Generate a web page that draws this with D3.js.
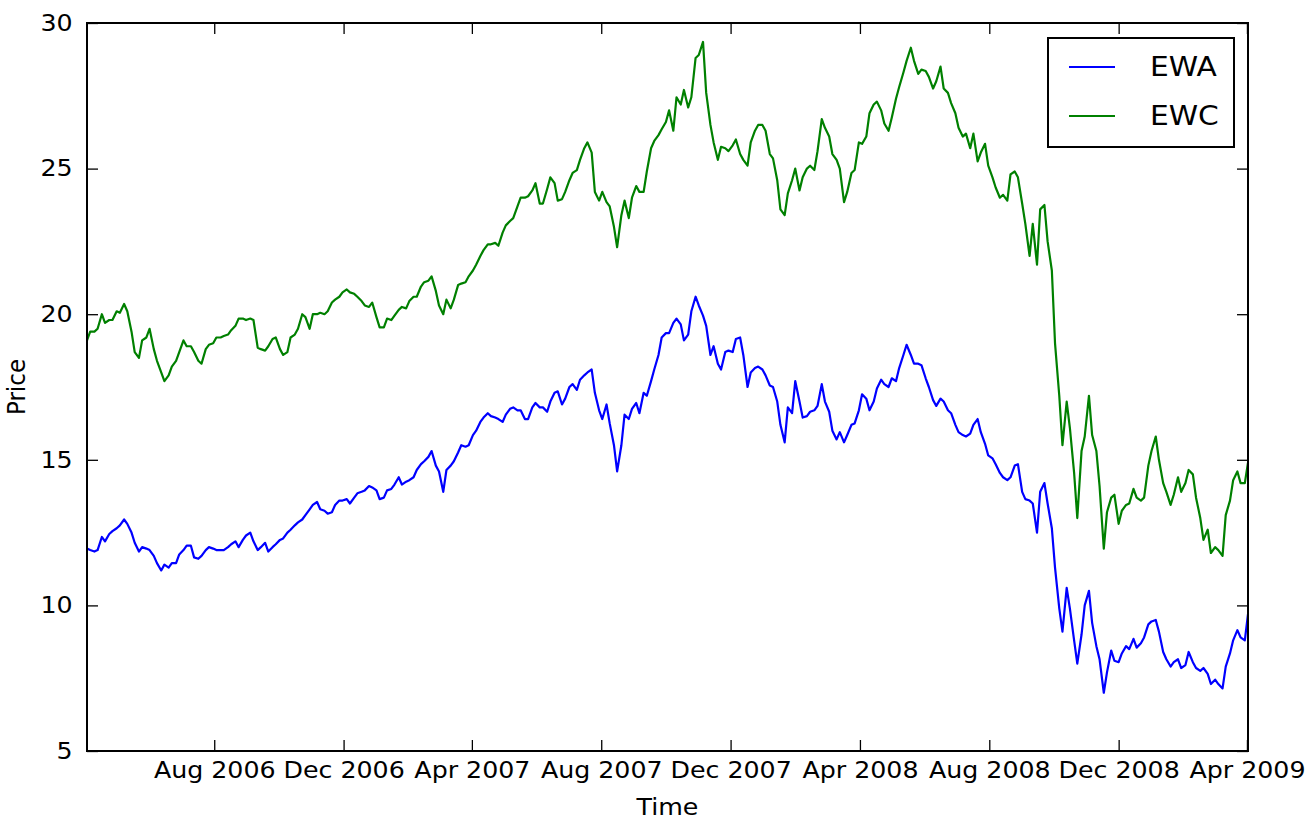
<!DOCTYPE html>
<html>
<head>
<meta charset="utf-8">
<script src="https://cdn.jsdelivr.net/npm/d3@7"></script>
<style>
  body { margin: 0; background: #fff; }
  text { font-family: "DejaVu Sans", sans-serif; fill: #000; }
</style>
</head>
<body>
<svg id="chart" width="1309" height="821"></svg>
<script>
// Series names and colours
const seriesNames = ["EWA", "EWC"];
const seriesColors = ["#0000ff", "#008000"];

// Twice-weekly closing prices (Mondays and Thursdays), Apr 3 2006 – Apr 2 2009
const ewa = [
  11.95, 11.9, 11.85, 11.9, 12.35, 12.2, 12.45, 12.55, 12.65, 12.75,
  12.95, 12.8, 12.5, 12.15, 11.85, 12.0, 11.95, 11.9, 11.7, 11.45,
  11.2, 11.4, 11.3, 11.45, 11.45, 11.75, 11.9, 12.05, 12.05, 11.65,
  11.6, 11.7, 11.9, 12.0, 11.95, 11.9, 11.9, 11.9, 12.0, 12.1,
  12.2, 12.0, 12.25, 12.4, 12.5, 12.2, 11.9, 12.0, 12.15, 11.85,
  12.0, 12.1, 12.25, 12.3, 12.5, 12.6, 12.75, 12.85, 12.95, 13.1,
  13.3, 13.45, 13.55, 13.3, 13.25, 13.15, 13.2, 13.45, 13.6, 13.6,
  13.65, 13.5, 13.7, 13.85, 13.9, 13.95, 14.1, 14.05, 13.95, 13.65,
  13.7, 13.95, 14.0, 14.15, 14.4, 14.15, 14.25, 14.3, 14.4, 14.65,
  14.85, 14.95, 15.1, 15.3, 14.8, 14.6, 13.9, 14.65, 14.8, 14.95,
  15.25, 15.5, 15.45, 15.5, 15.85, 16.0, 16.3, 16.45, 16.6, 16.5,
  16.45, 16.4, 16.3, 16.55, 16.75, 16.8, 16.7, 16.7, 16.4, 16.4,
  16.8, 16.95, 16.8, 16.8, 16.65, 17.0, 17.3, 17.35, 16.9, 17.1,
  17.5, 17.6, 17.4, 17.75, 17.9, 18.0, 18.1, 17.3, 16.7, 16.4,
  16.9, 16.25, 15.5, 14.6, 15.5, 16.55, 16.4, 16.75, 16.95, 16.6,
  17.3, 17.2, 17.7, 18.1, 18.6, 19.2, 19.35, 19.35, 19.7, 19.85,
  19.65, 19.1, 19.3, 20.1, 20.6, 20.3, 19.95, 19.6, 18.6, 18.9,
  18.3, 18.1, 18.7, 18.75, 18.7, 19.15, 19.2, 18.6, 17.5, 18.0,
  18.15, 18.2, 18.1, 17.9, 17.55, 17.5, 17.0, 16.2, 15.6, 16.8,
  16.6, 17.7, 17.0, 16.45, 16.5, 16.65, 16.7, 16.85, 17.6, 17.0,
  16.65, 16.0, 15.7, 15.95, 15.6, 15.85, 16.2, 16.25, 16.7, 17.25,
  17.1, 16.7, 17.0, 17.45, 17.75, 17.6, 17.5, 17.8, 17.7, 18.15,
  18.6, 18.95, 18.6, 18.3, 18.3, 18.25, 17.8, 17.5, 17.05, 16.85,
  17.1, 17.0, 16.7, 16.6, 16.2, 15.95, 15.85, 15.8, 15.9, 16.2,
  16.4, 15.95, 15.55, 15.15, 15.05, 14.85, 14.55, 14.4, 14.3, 14.4,
  14.8, 14.85, 13.9, 13.65, 13.6, 13.5, 12.5, 13.9, 14.2, 13.5,
  12.65, 11.3, 9.9, 9.1, 10.6, 9.9, 8.8, 8.0, 9.0, 10.0,
  10.5, 9.4, 8.6, 8.15, 7.0, 7.7, 8.45, 8.1, 8.05, 8.35,
  8.6, 8.5, 8.85, 8.55, 8.7, 8.9, 9.35, 9.45, 9.5, 9.1,
  8.4, 8.15, 7.9, 8.05, 8.15, 7.85, 7.95, 8.4, 8.05, 7.85,
  7.75, 7.85, 7.65, 7.3, 7.45, 7.3, 7.15, 7.9, 8.35, 8.8,
  9.15, 8.9, 8.8, 9.7
];

const ewc = [
  19.1, 19.4, 19.4, 19.5, 20.0, 19.7, 19.8, 19.8, 20.1, 20.05,
  20.35, 20.1, 19.4, 18.7, 18.5, 19.1, 19.2, 19.5, 18.8, 18.4,
  18.0, 17.7, 17.9, 18.2, 18.4, 18.7, 19.1, 18.9, 18.9, 18.7,
  18.4, 18.3, 18.8, 18.95, 19.0, 19.2, 19.2, 19.25, 19.3, 19.45,
  19.6, 19.85, 19.85, 19.8, 19.85, 19.8, 18.85, 18.8, 18.75, 18.9,
  19.15, 19.2, 18.8, 18.6, 18.7, 19.2, 19.3, 19.5, 20.0, 19.9,
  19.5, 20.0, 20.0, 20.05, 20.0, 20.1, 20.4, 20.5, 20.6, 20.75,
  20.85, 20.75, 20.7, 20.6, 20.45, 20.3, 20.25, 20.4, 19.9, 19.55,
  19.55, 19.85, 19.8, 19.95, 20.15, 20.25, 20.2, 20.45, 20.6, 20.6,
  20.95, 21.1, 21.15, 21.3, 20.8, 20.3, 20.0, 20.5, 20.2, 20.5,
  21.0, 21.05, 21.1, 21.3, 21.5, 21.7, 22.0, 22.2, 22.4, 22.4,
  22.45, 22.35, 22.8, 23.05, 23.2, 23.3, 23.7, 24.0, 24.0, 24.05,
  24.25, 24.5, 23.8, 23.8, 24.3, 24.7, 24.5, 23.9, 23.95, 24.2,
  24.6, 24.85, 24.95, 25.3, 25.7, 25.9, 25.55, 24.2, 23.9, 24.2,
  23.85, 23.7, 23.0, 22.3, 23.4, 23.9, 23.3, 24.0, 24.4, 24.2,
  24.2, 24.9, 25.7, 25.95, 26.15, 26.35, 26.6, 27.0, 26.3, 27.45,
  27.2, 27.7, 27.1, 27.45, 28.8, 28.9, 29.35, 27.6, 26.5, 25.9,
  25.3, 25.75, 25.7, 25.6, 25.8, 26.0, 25.5, 25.3, 25.1, 25.9,
  26.3, 26.5, 26.5, 26.3, 25.5, 25.35, 24.6, 23.6, 23.4, 24.15,
  24.6, 25.0, 24.25, 24.7, 25.0, 25.1, 24.95, 25.6, 26.7, 26.4,
  26.1, 25.5, 25.3, 25.0, 23.85, 24.2, 24.85, 24.95, 25.9, 25.85,
  26.1, 26.9, 27.2, 27.3, 27.0, 26.55, 26.3, 26.75, 27.4, 27.8,
  28.3, 28.7, 29.15, 28.7, 28.25, 28.4, 28.35, 28.15, 27.75, 28.0,
  28.5, 27.75, 27.6, 27.25, 26.9, 26.4, 26.1, 26.2, 25.7, 26.2,
  25.25, 25.55, 25.85, 25.1, 24.7, 24.35, 24.0, 24.1, 23.9, 24.8,
  24.9, 24.7, 23.8, 23.1, 22.0, 23.1, 21.7, 23.6, 23.75, 22.5,
  21.5, 19.0, 17.2, 15.5, 17.0, 16.1, 14.55, 13.0, 15.3, 15.8,
  17.2, 15.85, 15.3, 14.1, 11.95, 13.2, 13.7, 13.8, 12.8, 13.25,
  13.45, 13.5, 14.0, 13.7, 13.6, 13.7, 14.8, 15.3, 15.8, 15.0,
  14.2, 13.9, 13.45, 13.8, 14.4, 13.9, 14.2, 14.65, 14.5, 13.7,
  13.0, 12.25, 12.6, 11.8, 12.0, 11.9, 11.7, 13.1, 13.6, 14.3,
  14.6, 14.2, 14.2, 14.9
];

// Axis ticks
const yTicks = [5, 10, 15, 20, 25, 30];
const xTickDates = ["2006-08-01", "2006-12-01", "2007-04-01", "2007-08-01",
                    "2007-12-01", "2008-04-01", "2008-08-01", "2008-12-01", "2009-04-01"];
const xLabel = "Time";
const yLabel = "Price";

// Sample dates: every Monday and Thursday in the period
const dates = d3.timeDays(new Date(2006, 3, 3), new Date(2009, 3, 3))
  .filter(d => d.getDay() === 1 || d.getDay() === 4);

const parse = d3.timeParse("%Y-%m-%d");
const xTicks = xTickDates.map(parse);

const margin = { left: 87, top: 23, right: 1248, bottom: 751 };
const stretch = 1.1;   // glyphs are drawn slightly wide

const svg = d3.select("#chart");
svg.append("rect").attr("width", 1309).attr("height", 821).attr("fill", "#fff");

const x = d3.scaleTime()
  .domain([dates[0], dates[dates.length - 1]])
  .range([margin.left, margin.right]);
const y = d3.scaleLinear().domain([5, 30]).range([margin.bottom, margin.top]);

svg.append("defs").append("clipPath").attr("id", "plot-clip")
  .append("rect")
  .attr("x", margin.left).attr("y", margin.top)
  .attr("width", margin.right - margin.left)
  .attr("height", margin.bottom - margin.top);

// Price lines
const series = [ewa, ewc];
const line = d3.line().x(d => x(d[0])).y(d => y(d[1]));
const linesG = svg.append("g").attr("clip-path", "url(#plot-clip)");
series.forEach((vals, i) => {
  const n = Math.min(vals.length, dates.length);
  const pts = d3.range(n).map(k => [dates[k], vals[k]]);
  linesG.append("path")
    .datum(pts)
    .attr("fill", "none")
    .attr("stroke", seriesColors[i])
    .attr("stroke-width", 2.2)
    .attr("stroke-linejoin", "round")
    .attr("d", line);
});

// Axes with inward ticks on all four sides
const tickLen = 11;
function styleAxis(g) {
  g.select(".domain").remove();
  g.selectAll(".tick line").attr("stroke", "#000").attr("stroke-width", 1.3);
  g.selectAll(".tick text")
    .style("font-family", '"DejaVu Sans", sans-serif')
    .style("font-size", "23px")
    .attr("fill", "#000");
}

svg.append("g")
  .attr("transform", `translate(0,${margin.bottom})`)
  .call(d3.axisBottom(x).tickValues(xTicks).tickFormat(d3.timeFormat("%b %Y"))
    .tickSizeInner(-tickLen).tickSizeOuter(0).tickPadding(11))
  .call(styleAxis)
  .call(g => g.selectAll(".tick text").attr("transform", `scale(${stretch},1)`));

svg.append("g")
  .attr("transform", `translate(0,${margin.top})`)
  .call(d3.axisTop(x).tickValues(xTicks).tickFormat("")
    .tickSizeInner(-tickLen).tickSizeOuter(0))
  .call(styleAxis);

svg.append("g")
  .attr("transform", `translate(${margin.left},0)`)
  .call(d3.axisLeft(y).tickValues(yTicks).tickFormat(d3.format("d"))
    .tickSizeInner(-tickLen).tickSizeOuter(0).tickPadding(13))
  .call(styleAxis)
  .call(g => g.selectAll(".tick text").attr("transform", `scale(${stretch},1)`));

svg.append("g")
  .attr("transform", `translate(${margin.right},0)`)
  .call(d3.axisRight(y).tickValues(yTicks).tickFormat("")
    .tickSizeInner(-tickLen).tickSizeOuter(0))
  .call(styleAxis);

// Frame
svg.append("rect")
  .attr("x", margin.left).attr("y", margin.top)
  .attr("width", margin.right - margin.left)
  .attr("height", margin.bottom - margin.top)
  .attr("fill", "none").attr("stroke", "#000").attr("stroke-width", 2);

// Axis titles
svg.append("text")
  .attr("transform", `translate(${(margin.left + margin.right) / 2},815) scale(${stretch},1)`)
  .attr("text-anchor", "middle")
  .style("font-size", "23px")
  .text(xLabel);

svg.append("text")
  .attr("transform", `translate(25,${(margin.top + margin.bottom) / 2}) rotate(-90) scale(1,${stretch})`)
  .attr("text-anchor", "middle")
  .style("font-size", "23px")
  .text(yLabel);

// Legend
const legend = svg.append("g");
legend.append("rect")
  .attr("x", 1048).attr("y", 38).attr("width", 186).attr("height", 109)
  .attr("fill", "#fff").attr("stroke", "#000").attr("stroke-width", 2);
seriesNames.forEach((name, i) => {
  const cy = 67 + i * 49;
  legend.append("line")
    .attr("x1", 1069).attr("x2", 1115).attr("y1", cy).attr("y2", cy)
    .attr("stroke", seriesColors[i]).attr("stroke-width", 2.2);
  legend.append("text")
    .attr("transform", `translate(1150,${cy + 9}) scale(${stretch},1)`)
    .style("font-size", "27px")
    .text(name);
});
</script>
</body>
</html>
